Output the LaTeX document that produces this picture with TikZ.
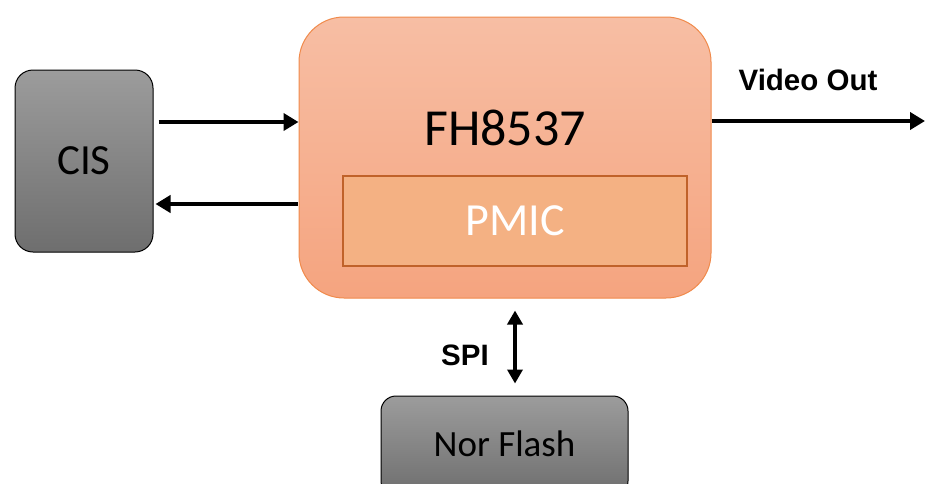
\documentclass[tikz,border=0pt]{standalone}
\usepackage{fontspec}
\setmainfont{Carlito}
\newfontfamily\labfont{Liberation Sans}
\usetikzlibrary{arrows.meta,calc}
\definecolor{grtop}{HTML}{9C9C9C}
\definecolor{grbot}{HTML}{6E6E6E}
\definecolor{fhtop}{HTML}{F7BEA4}
\definecolor{fhbot}{HTML}{F5A47F}
\definecolor{fhline}{HTML}{F08A4B}
\definecolor{pmicfill}{HTML}{F4B183}
\definecolor{pmicline}{HTML}{C0622A}
\tikzset{
  graybox/.style={draw=black, line width=1pt, top color=grtop, bottom color=grbot, rounded corners=18pt, inner sep=0pt},
  arr/.style={line width=4pt, -{Triangle[length=15pt,width=17pt]}},
  darr/.style={line width=3.5pt, {Triangle[length=14pt,width=15pt]}-{Triangle[length=14pt,width=15pt]}},
  lab/.style={font=\labfont\bfseries\fontsize{29.5}{34}\selectfont, inner sep=0pt}
}
\begin{document}
\begin{tikzpicture}[x=1pt,y=-1pt]
\useasboundingbox (0,0) rectangle (925,483);
\node[graybox, minimum width=138pt, minimum height=182pt, font=\fontsize{43}{50}\selectfont] (cis) at (84,161) {CIS};
\node[draw=fhline, line width=1pt, top color=fhtop, bottom color=fhbot, rounded corners=45pt, minimum width=412pt, minimum height=281pt, inner sep=0pt] (fh) at (505,157.5) {};
\node[font=\fontsize{52}{60}\selectfont, inner sep=0pt] (fhl) at (505,128) {FH8537};
\node[draw=pmicline, line width=2pt, fill=pmicfill, minimum width=344pt, minimum height=90pt, inner sep=0pt, text=white, font=\fontsize{46}{54}\selectfont] (pmic) at (515,221) {PMIC};
\node[graybox, rounded corners=15pt, minimum width=247pt, minimum height=100pt] (flash) at (504.5,446) {};
\node[inner sep=0pt, font=\fontsize{37}{44}\selectfont] (flashl) at (504.5,444) {Nor Flash};
\coordinate (y1) at (0,122);
\coordinate (y2) at (0,204);
\coordinate (vo) at (925,121);
\coordinate (sx) at (515,0);
\draw[arr, shorten <=5pt] (cis.east |- y1) -- (fh.west |- y1);
\draw[arr, shorten <=1pt, shorten >=2pt] (fh.west |- y2) -- (cis.east |- y2);
\draw[arr] (fh.east |- vo) -- (vo);
\draw[darr, shorten <=12pt, shorten >=12pt] (fh.south -| sx) -- (flash.north -| sx);
\node[lab] (vol) at (808,80) {Video Out};
\node[lab] (spil) at (465,355) {SPI};
\end{tikzpicture}
\end{document}
